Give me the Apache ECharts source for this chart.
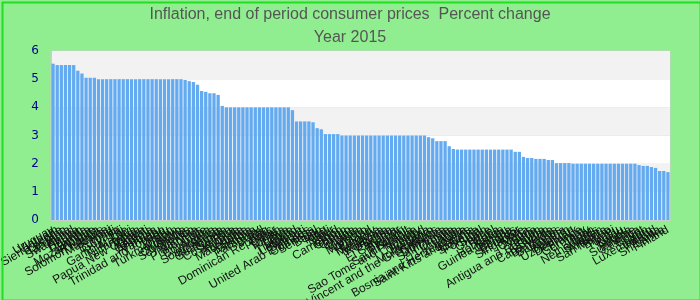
<!DOCTYPE html>
<html><head><meta charset="utf-8">
<script src="https://cdn.jsdelivr.net/npm/echarts@6/dist/echarts.min.js"></script>
<style>html,body{margin:0;padding:0;background:#90ee90}#c{width:700px;height:300px}</style>
</head><body><div id="c"></div>
<script>
const titleText = "Inflation, end of period consumer prices  Percent change";
const subtitleText = "Year 2015";
const countries = ["Uruguay","Vietnam","Sierra Leone","Lesotho","Tanzania","Swaziland","Kenya","Bhutan","Uganda","Zambia",
"Mozambique","Rwanda","Solomon Islands","Maldives","Haiti","Burundi","Guyana","Fiji","Gambia, The","Malawi",
"Nicaragua","Tonga","Papua New Guinea","Kiribati","Georgia","Armenia","Vanuatu","Trinidad and Tobago","Peru","Jordan",
"Turkmenistan","Kosovo","Colombia","Seychelles","Mexico","Namibia","Philippines","Chile","Botswana","Algeria",
"South Africa","Indonesia","Guatemala","Samoa","Costa Rica","Albania","Australia","Macedonia","Serbia","Moldova",
"Paraguay","Brazil","Iraq","Dominican Republic","Qatar","Oman","Tunisia","Libya","Belize","Thailand",
"Lebanon","Djibouti","United Arab Emirates","Comoros","Senegal","Benin","Togo","Mali","Niger","Chad",
"Cameroon","Gabon","Congo","Eritrea","Liberia","Guinea","Morocco","Poland","Hungary","Mongolia",
"Malaysia","Romania","Korea","Panama","El Salvador","Bahrain","Kuwait","Saudi Arabia","Sao Tome and Principe","Norway",
"Iceland","Bulgaria","Montenegro","Saint Vincent and the Grenadines","Grenada","Dominica","Saint Lucia","Croatia","Lithuania","Latvia",
"Bosnia and Herzegovina","Saint Kitts and Nevis","Estonia","Slovenia","Portugal","Spain","Greece","Israel","Cuba","Honduras",
"Guinea-Bissau","Canada","Belarus","Ecuador","Singapore","Malta","Cyprus","Syria","Yemen","Antigua and Barbuda",
"Sudan","Cabo Verde","Barbados","Bahamas","Austria","Belgium","Uzbekistan","Denmark","France","Germany",
"Italy","Japan","Netherlands","Sweden","Andorra","San Marino","Brunei","Tuvalu","Palau","Nauru",
"Angola","Suriname","Jamaica","Egypt","Iran","Luxembourg","Ireland","Aruba","Sri Lanka","Finland"];
const inflation = [5.55,5.5,5.5,5.5,5.5,5.5,5.3,5.2,5.05,5.05,
5.05,5.0,5.0,5.0,5.0,5.0,5.0,5.0,5.0,5.0,
5.0,5.0,5.0,5.0,5.0,5.0,5.0,5.0,5.0,5.0,
5.0,5.0,4.97,4.93,4.9,4.8,4.58,4.55,4.5,4.5,
4.44,4.05,4.0,4.0,4.0,4.0,4.0,4.0,4.0,4.0,
4.0,4.0,4.0,4.0,4.0,4.0,4.0,4.0,3.9,3.5,
3.5,3.5,3.5,3.47,3.26,3.22,3.05,3.05,3.05,3.05,
3.0,3.0,3.0,3.0,3.0,3.0,3.0,3.0,3.0,3.0,
3.0,3.0,3.0,3.0,3.0,3.0,3.0,3.0,3.0,3.0,
3.0,2.94,2.9,2.8,2.8,2.8,2.62,2.52,2.5,2.5,
2.5,2.5,2.5,2.5,2.5,2.5,2.5,2.5,2.5,2.5,
2.5,2.5,2.42,2.42,2.24,2.2,2.2,2.17,2.17,2.17,
2.13,2.13,2.02,2.02,2.02,2.02,2.0,2.0,2.0,2.0,
2.0,2.0,2.0,2.0,2.0,2.0,2.0,2.0,2.0,2.0,
2.0,2.0,1.95,1.92,1.92,1.88,1.85,1.74,1.74,1.7];
const yTicks = [0,1,2,3,4,5,6];

const chart = echarts.init(document.getElementById('c'));
chart.setOption({
  backgroundColor: '#90ee90',
  animation: false,
  title: [
    {text: titleText, left: 'center', top: 2, textStyle: {fontFamily: 'Liberation Sans', fontSize: 16, fontWeight: 'normal', color: '#555'}},
    {text: subtitleText, left: 'center', top: 25, textStyle: {fontFamily: 'Liberation Sans', fontSize: 16, fontWeight: 'normal', color: '#555'}}
  ],
  graphic: [{type: 'rect', left: 0, top: 0, shape: {width: 698, height: 298}, style: {fill: 'none', stroke: '#22dd22', lineWidth: 2}, z: 100, x: 1, y: 1}],
  grid: {left: 51, right: 30, top: 51, bottom: 80, containLabel: false, outerBoundsMode: 'none', show: true, borderColor: '#cccccc', borderWidth: 1, backgroundColor: 'transparent'},
  xAxis: {
    type: 'category', data: countries,
    axisTick: {show: false},
    axisLine: {lineStyle: {color: '#cccccc'}},
    axisLabel: {interval: 0, rotate: 30, fontFamily: 'Liberation Sans', fontSize: 12, color: '#111', margin: 9}
  },
  yAxis: {
    type: 'value', min: yTicks[0], max: yTicks[yTicks.length-1], interval: 1,
    axisLine: {show: true, lineStyle: {color: '#cccccc'}},
    axisTick: {show: false},
    splitLine: {show: false},
    splitArea: {show: true, areaStyle: {color: ['#ffffff', '#f2f2f2']}},
    axisLabel: {color: '#00008b', fontFamily: 'DejaVu Sans', fontSize: 12, margin: 12}
  },
  series: [{type: 'bar', data: inflation, barCategoryGap: '20%', itemStyle: {color: '#64aaf0'}}]
});
</script></body></html>
